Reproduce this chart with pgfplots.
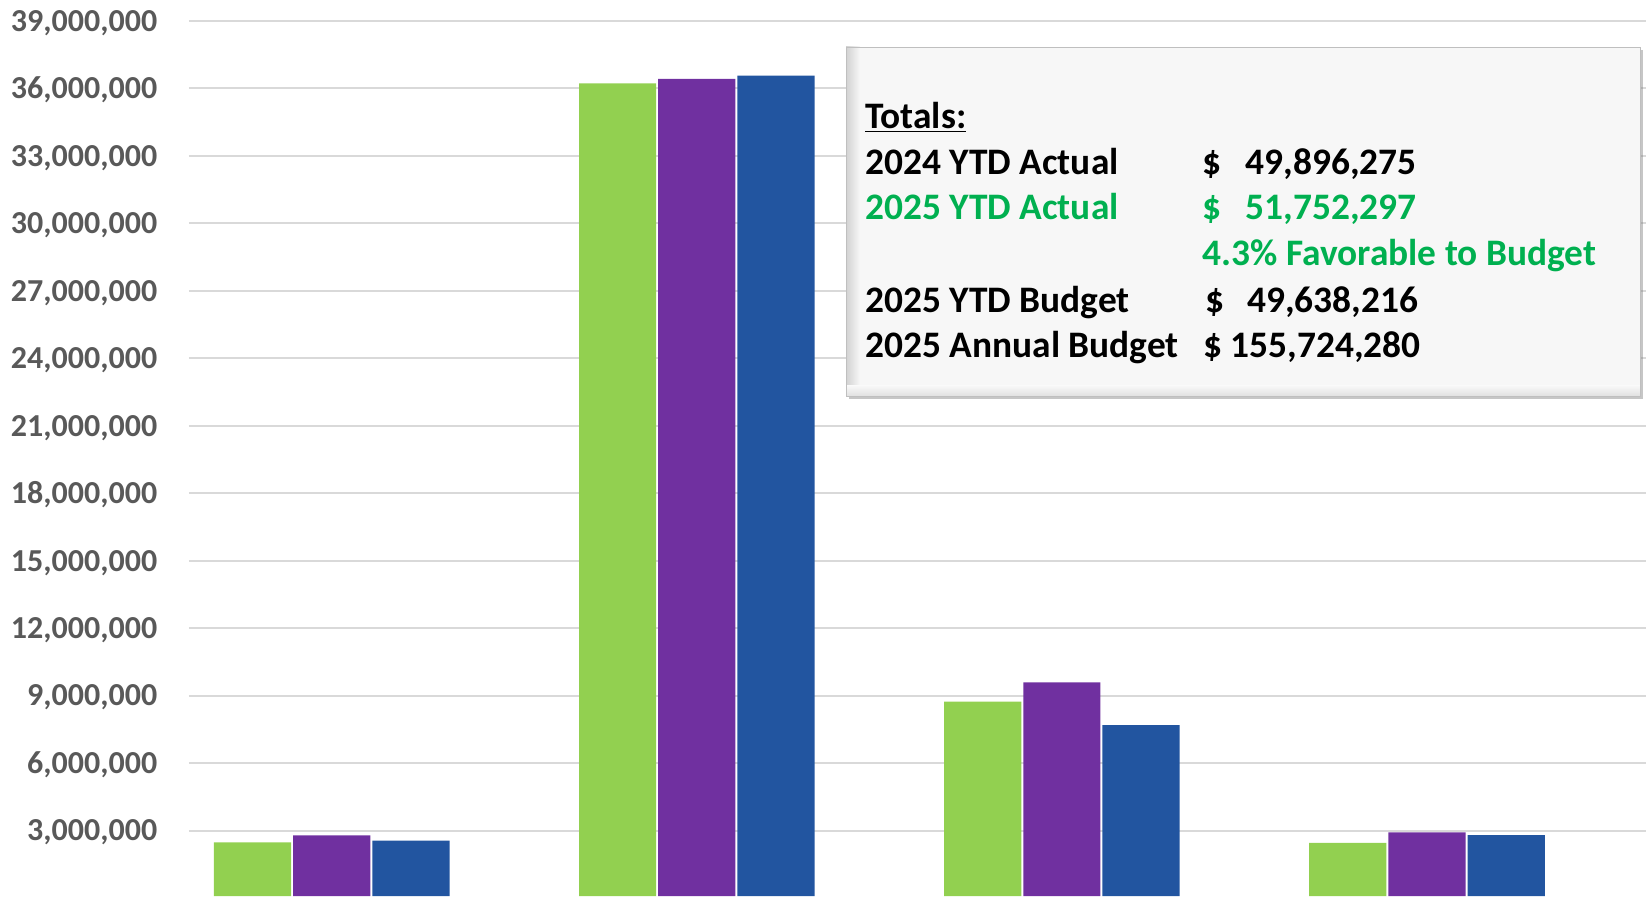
\documentclass[border=0pt]{standalone}
\usepackage{fontspec}
\setmainfont{Carlito}
\usepackage{pgfplots}
\usepackage{pgfplotstable}
\pgfplotsset{compat=1.18}
\usetikzlibrary{shadows}
\definecolor{g24}{HTML}{92D050}
\definecolor{p25}{HTML}{7030A0}
\definecolor{b25}{HTML}{2255A0}
\definecolor{gtxt}{HTML}{00B050}
\definecolor{ticktxt}{HTML}{595959}
\definecolor{gridc}{HTML}{D9D9D9}

\pgfplotstableread{
x a24 a25 bud25
0 2480000 2800000 2560000
1 36220000 36420000 36570000
2 8740000 9600000 7700000
3 2460000 2930000 2810000
}\totals

\begin{document}
\begin{tikzpicture}
\useasboundingbox (0,0) rectangle (823pt,448pt);
\begin{axis}[
  at={(94.5pt,0pt)}, anchor=south west,
  scale only axis, width=728.5pt, height=448pt,
  xmin=-0.391, xmax=3.6, ymin=100000, ymax=39930000,
  ybar=1pt, bar width=38.6pt,
  xtick=\empty,
  ytick={3000000,6000000,9000000,12000000,15000000,18000000,21000000,24000000,27000000,30000000,33000000,36000000,39000000},
  scaled y ticks=false,
  yticklabel style={/pgf/number format/.cd, fixed, 1000 sep={,}, precision=0, assume math mode=true,
    /tikz/.cd, font=\fontsize{16}{19}\selectfont\bfseries, color=ticktxt,
    anchor=base east, inner sep=0pt, xshift=-15.7pt, yshift=-5.1pt},
  major tick length=0pt,
  axis line style={draw=none},
  ymajorgrids, grid style={color=gridc, line width=1pt},
]
\addplot[fill=g24, draw=none] table[x=x, y=a24] {\totals};
\addplot[fill=p25, draw=none] table[x=x, y=a25] {\totals};
\addplot[fill=b25, draw=none] table[x=x, y=bud25] {\totals};
\end{axis}

% totals box
\path[fill=white!97!black, drop shadow={shadow xshift=1.5pt, shadow yshift=-1.5pt, opacity=0.45}]
  (423pt,250pt) rectangle (820pt,424.5pt);
\shade[left color=black!18, right color=white!97!black] (423pt,250pt) rectangle (430pt,424.5pt);
\shade[top color=white!97!black, bottom color=black!12] (423pt,250pt) rectangle (820pt,255pt);
\draw[white!75!black, line width=0.4pt] (423pt,250pt) rectangle (820pt,424.5pt);

\begin{scope}[every node/.style={inner sep=0pt, font=\fontsize{18.7}{22}\selectfont\bfseries}]
\node[anchor=base west] at (432.5pt,383.6pt) {\underline{Totals:}};
\node[anchor=base west] at (432.5pt,360.5pt) {2024 YTD Actual};
\node[anchor=base west] at (601pt,360.5pt) {\$};
\node[anchor=base east] at (708.5pt,360.5pt) {49,896,275};
\node[anchor=base west, text=gtxt] at (432.5pt,338pt) {2025 YTD Actual};
\node[anchor=base west, text=gtxt] at (601pt,338pt) {\$};
\node[anchor=base east, text=gtxt] at (708.5pt,338pt) {51,752,297};
\node[anchor=base west, text=gtxt] at (601pt,315pt) {4.3\% Favorable to Budget};
\node[anchor=base west] at (432.5pt,291.8pt) {2025 YTD Budget};
\node[anchor=base west] at (602.5pt,291.8pt) {\$};
\node[anchor=base east] at (709.3pt,291.8pt) {49,638,216};
\node[anchor=base west] at (432.5pt,269.2pt) {2025 Annual Budget};
\node[anchor=base west] at (601.5pt,269.2pt) {\$ 155,724,280};
\end{scope}
\end{tikzpicture}
\end{document}
